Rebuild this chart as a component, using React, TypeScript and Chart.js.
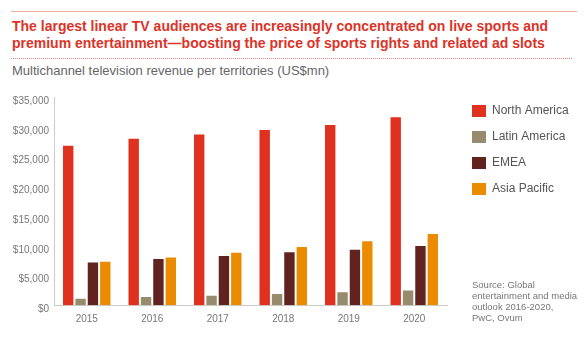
import React, { useEffect, useRef } from "react";
import { Chart, registerables } from "chart.js";

Chart.register(...registerables);

const years = ["2015", "2016", "2017", "2018", "2019", "2020"];
const northAmerica = [26800, 28000, 28700, 29450, 30300, 31600];
const latinAmerica = [1100, 1400, 1600, 1900, 2200, 2500];
const emea = [7200, 7800, 8300, 8900, 9350, 9950];
const asiaPacific = [7300, 8050, 8850, 9800, 10750, 11980];
const seriesNames = ["North America", "Latin America", "EMEA", "Asia Pacific"];
const seriesColors = ["#e0301e", "#968c6d", "#602320", "#eb8c00"];
const yTicks = [0, 5000, 10000, 15000, 20000, 25000, 30000, 35000];

const FONT = "'Liberation Sans', Arial, Helvetica, sans-serif";

const legendShift = {
  id: "legendShift",
  afterLayout(chart: any) {
    const l = chart.legend;
    if (l) {
      l.top -= 6;
      l.bottom -= 6;
      l.left += 11;
      l.right += 11;
    }
  },
};

export default function App() {
  const ref = useRef<HTMLCanvasElement | null>(null);

  useEffect(() => {
    if (!ref.current) return;
    const values = [northAmerica, latinAmerica, emea, asiaPacific];
    const chart = new Chart(ref.current, {
      type: "bar",
      data: {
        labels: years,
        datasets: values.map((v, i) => ({
          label: seriesNames[i],
          data: v,
          backgroundColor: seriesColors[i],
          borderWidth: 0,
          categoryPercentage: 0.755,
          barPercentage: 0.84,
        })),
      },
      plugins: [legendShift],
      options: {
        responsive: false,
        animation: false,
        devicePixelRatio: 1,
        layout: { padding: { top: 17, left: 0, right: 20.3, bottom: 17.7 } },
        font: { family: FONT },
        plugins: {
          title: { display: false },
          tooltip: { enabled: false },
          legend: {
            display: true,
            position: "right",
            align: "start",
            labels: {
              boxWidth: 14,
              boxHeight: 12,
              padding: 14,
              color: "#555555",
              font: { family: FONT, size: 12 },
            },
          },
        },
        scales: {
          x: {
            grid: { display: false, drawTicks: false },
            border: { display: true, color: "#cccccc", width: 1 },
            ticks: { color: "#777777", font: { family: FONT, size: 10 }, padding: 8 },
            afterFit: (s: any) => {
              s.height = 30;
            },
          },
          y: {
            min: 0,
            max: 35000,
            grid: { display: false, drawTicks: false },
            border: { display: true, color: "#cccccc", width: 1 },
            ticks: {
              stepSize: 5000,
              color: "#777777",
              padding: 5,
              labelOffset: 4,
              font: { family: FONT, size: 10 },
              callback: (v: any) => "$" + Number(v).toLocaleString("en-US"),
            },
            afterBuildTicks: (s: any) => {
              s.ticks = yTicks.map((value) => ({ value }));
            },
            afterFit: (s: any) => {
              s.width = 54;
            },
          },
        },
      } as any,
    });
    return () => chart.destroy();
  }, []);

  return (
    <div
      style={{
        position: "absolute",
        left: 0,
        top: 0,
        width: 588,
        height: 353,
        overflow: "hidden",
        background: "#ffffff",
        fontFamily: FONT,
      }}
    >
      <div style={{ position: "absolute", left: 11, top: 11, width: 566, borderTop: "1px solid #f2aaa2" }} />
      <div
        style={{
          position: "absolute",
          left: 12,
          top: 17.5,
          fontSize: 14,
          lineHeight: "17.5px",
          fontWeight: "bold",
          color: "#dc3328",
          whiteSpace: "nowrap",
        }}
      >
        <div>The largest linear TV audiences are increasingly concentrated on live sports and</div>
        <div>premium entertainment—boosting the price of sports rights and related ad slots</div>
      </div>
      <div style={{ position: "absolute", left: 11, top: 58, width: 561, borderTop: "1px dotted #e48a7e" }} />
      <div style={{ position: "absolute", left: 12, top: 63, fontSize: 13, lineHeight: "16px", color: "#666666", whiteSpace: "nowrap" }}>
        Multichannel television revenue per territories (US$mn)
      </div>
      <canvas ref={ref} width={588} height={273} style={{ position: "absolute", left: 0, top: 80, width: 588, height: 273 }} />
      <div style={{ position: "absolute", left: 472, top: 278.6, fontSize: 9.5, lineHeight: "11.3px", color: "#777777", whiteSpace: "nowrap" }}>
        <div>Source: Global</div>
        <div>entertainment and media</div>
        <div>outlook 2016-2020,</div>
        <div>PwC, Ovum</div>
      </div>
    </div>
  );
}
